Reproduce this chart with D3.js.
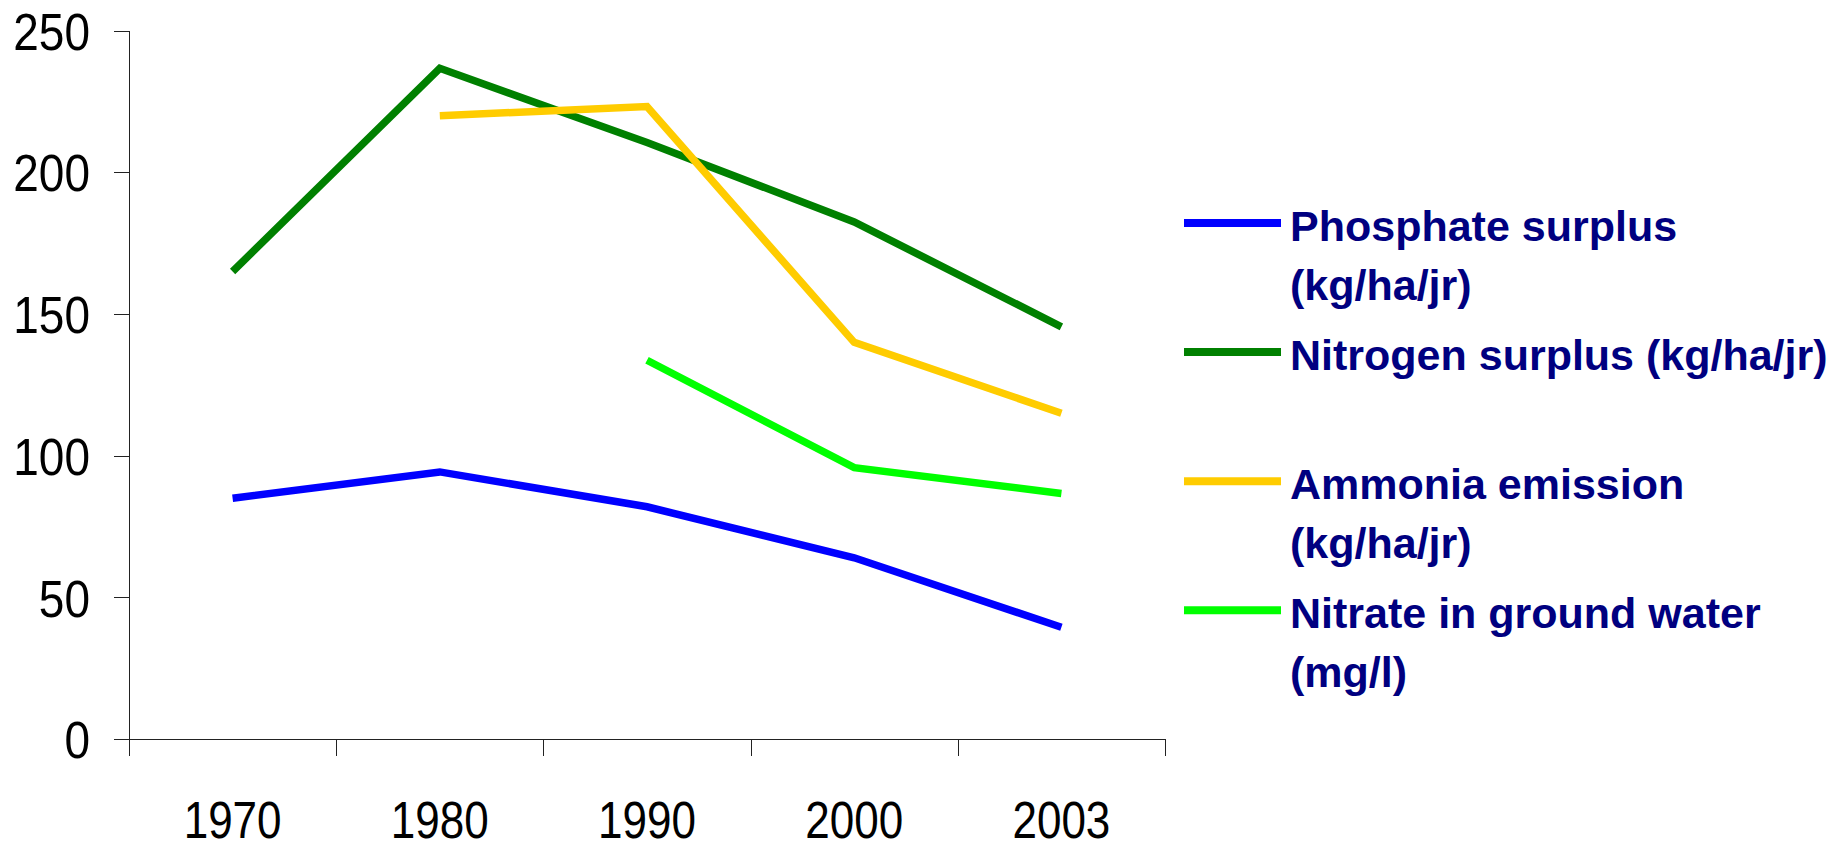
<!DOCTYPE html>
<html lang="en">
  <head>
    <meta charset="UTF-8" />
    <title>Nutrient trends</title>
    <script src="https://d3js.org/d3.v7.min.js"></script>
    <style>
      body {
        margin: 0;
        background: #fff;
        font-family: "Liberation Sans", Arial, sans-serif;
      }
      .axis path,
      .axis line {
        stroke: #222;
        stroke-width: 1px;
        shape-rendering: crispEdges;
      }
      .axis text {
        fill: #000;
      }
      .legend text {
        fill: #000080;
        font-weight: bold;
        font-size: 43px;
      }
    </style>
  </head>
  <body>
    <svg width="1845" height="843"></svg>
    <script>
      // data
      const years = ["1970", "1980", "1990", "2000", "2003"];
      const phosphate = [85, 94.3, 82, 64, 39.5];
      const nitrogen = [165, 236.7, 210.5, 182.5, 145.5];
      const ammonia = [null, 220, 223.2, 140, 115];
      const nitrate = [null, null, 133.7, 95.8, 86.7];
      const yTicks = [0, 50, 100, 150, 200, 250];

      const seriesLabels = [
        ["Phosphate surplus", "(kg/ha/jr)"],
        ["Nitrogen surplus (kg/ha/jr)"],
        ["Ammonia emission", "(kg/ha/jr)"],
        ["Nitrate in ground water", "(mg/l)"]
      ];
      const seriesColors = ["#0000ff", "#008000", "#ffcc00", "#00ff00"];

      const series = [phosphate, nitrogen, ammonia, nitrate].map((vals, i) => ({
        label: seriesLabels[i],
        color: seriesColors[i],
        values: vals.map((v, j) => ({ year: years[j], value: v }))
      }));

      const svg = d3.select("svg");
      const plot = { left: 129, right: 1165, top: 30.6, bottom: 739.2 };

      const x = d3
        .scaleBand()
        .domain(years)
        .range([plot.left, plot.right]);

      const xEdges = d3
        .scaleLinear()
        .domain([0, years.length])
        .range([plot.left, plot.right]);

      const y = d3
        .scaleLinear()
        .domain([0, 250])
        .range([plot.bottom, plot.top]);

      // y axis
      const yAxis = svg
        .append("g")
        .attr("class", "axis")
        .attr("transform", `translate(${plot.left},0)`)
        .call(d3.axisLeft(y).tickValues(yTicks).tickSize(15).tickSizeOuter(0));
      yAxis
        .selectAll("text")
        .attr("x", null)
        .attr("dy", "0.36em")
        .attr("font-size", 46)
        .attr("font-family", "Liberation Sans, Arial, sans-serif")
        .attr("transform", "translate(-39,0) scale(1,1.12)");
      yAxis.select(".domain").attr("d", `M0,${plot.top}V${plot.bottom}`);

      // x axis: line + boundary ticks
      svg
        .append("g")
        .attr("class", "axis")
        .attr("transform", `translate(0,${plot.bottom})`)
        .call(
          d3
            .axisBottom(xEdges)
            .ticks(years.length)
            .tickFormat("")
            .tickSizeInner(17)
            .tickSizeOuter(0)
        );

      // x labels centred in the bands
      const xAxis = svg
        .append("g")
        .attr("class", "axis")
        .attr("transform", `translate(0,${plot.bottom})`)
        .call(d3.axisBottom(x).tickSize(0));
      xAxis.select(".domain").remove();
      xAxis
        .selectAll("text")
        .attr("y", null)
        .attr("dy", null)
        .attr("font-size", 44)
        .attr("font-family", "Liberation Sans, Arial, sans-serif")
        .attr("transform", "translate(0,99) scale(1,1.16)");

      // lines
      const line = d3
        .line()
        .defined((d) => d.value != null)
        .x((d) => x(d.year) + x.bandwidth() / 2)
        .y((d) => y(d.value));

      svg
        .append("g")
        .selectAll("path")
        .data(series)
        .join("path")
        .attr("fill", "none")
        .attr("stroke", (d) => d.color)
        .attr("stroke-width", 7.5)
        .attr("stroke-linejoin", "miter")
        .attr("d", (d) => line(d.values));

      // legend
      const legend = svg
        .append("g")
        .attr("class", "legend")
        .selectAll("g")
        .data(series)
        .join("g")
        .attr("transform", (d, i) => `translate(1184,${223 + i * 129.1})`);

      legend
        .append("line")
        .attr("x1", 0)
        .attr("x2", 97)
        .attr("stroke", (d) => d.color)
        .attr("stroke-width", 8);

      legend
        .append("text")
        .attr("x", 106)
        .attr("y", 18)
        .selectAll("tspan")
        .data((d) => d.label)
        .join("tspan")
        .attr("x", 106)
        .attr("dy", (d, i) => (i === 0 ? 0 : 59))
        .text((d) => d);
    </script>
  </body>
</html>
